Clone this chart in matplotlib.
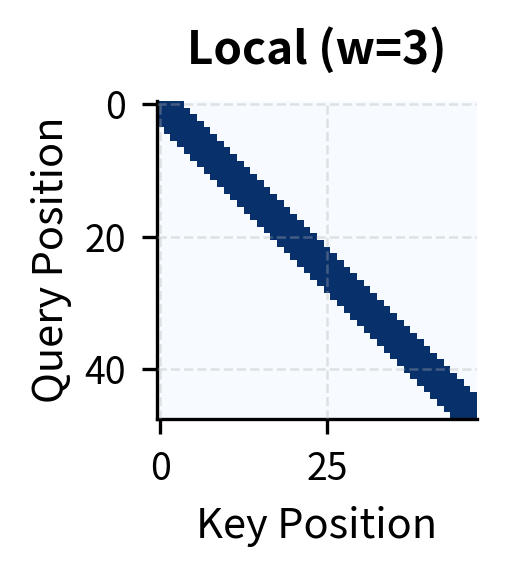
import numpy as np
import matplotlib.pyplot as plt

plt.rcParams['font.family'] = ['Noto Sans CJK SC', 'DejaVu Sans']

# local attention mask, sequence length and window
seq_len = 48
window = 3
x_ticks = [0, 25]
y_ticks = [0, 20, 40]
title = 'Local (w=3)'

idx = np.arange(seq_len)
mask = (np.abs(idx[:, None] - idx[None, :]) <= window).astype(float)

fig = plt.figure(figsize=(507 / 300, 574 / 300), dpi=300)
ax = fig.add_axes([157 / 507, 1 - 419 / 574, 320 / 507, 318 / 574])
ax.imshow(mask, cmap='Blues', vmin=0, vmax=1, aspect='auto', interpolation='nearest')
ax.set_xticks(x_ticks)
ax.set_yticks(y_ticks)
ax.tick_params(labelsize=9, width=0.8, length=3.5, pad=4)
ax.set_xlabel('Key Position', fontsize=10, labelpad=4)
ax.set_ylabel('Query Position', fontsize=10, labelpad=3)
ax.set_title(title, fontsize=11, fontweight='bold', pad=9)
ax.grid(True, linestyle='--', color='#b0b0b0', alpha=0.35, linewidth=0.6)
ax.set_axisbelow(False)
for s in ['top', 'right']:
    ax.spines[s].set_visible(False)
for s in ['left', 'bottom']:
    ax.spines[s].set_linewidth(0.8)

fig.savefig('out.png', dpi=300)
